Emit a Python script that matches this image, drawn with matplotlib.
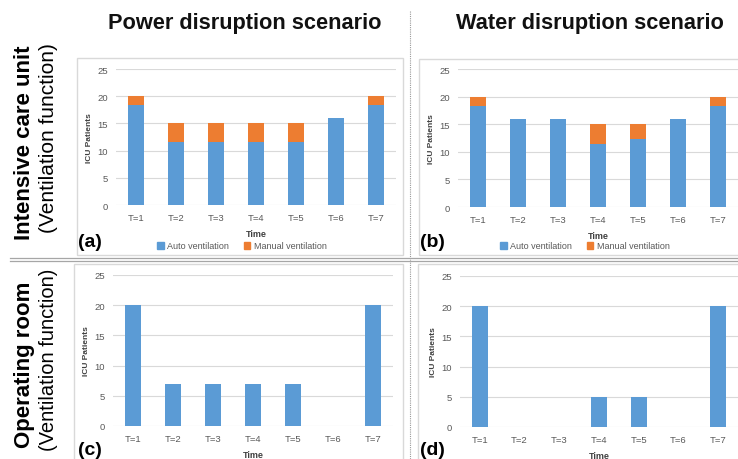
import matplotlib
matplotlib.use("Agg")
import matplotlib.pyplot as plt
from matplotlib.patches import Rectangle
from matplotlib.lines import Line2D

W, H = 738, 460
plt.rcParams['font.family'] = ['Liberation Sans', 'DejaVu Sans']

categories = ["T=1", "T=2", "T=3", "T=4", "T=5", "T=6", "T=7"]
a_auto = [18.3, 11.6, 11.6, 11.6, 11.6, 16, 18.3]
a_manual = [1.7, 3.4, 3.4, 3.4, 3.4, 0, 1.7]
b_auto = [18.3, 16, 16, 11.5, 12.3, 16, 18.3]
b_manual = [1.7, 0, 0, 3.5, 2.7, 0, 1.7]
c_vals = [20, 7, 7, 7, 7, 0, 20]
d_vals = [20, 0, 0, 5, 5, 0, 20]
yticks = [0, 5, 10, 15, 20, 25]

BLUE = "#5B9BD5"
ORANGE = "#ED7D31"
GRID = "#D9D9D9"
TXT = "#595959"

fig = plt.figure(figsize=(W / 100, H / 100), dpi=100)


def rect(l, t, r, b):
    return [l / W, 1 - b / H, (r - l) / W, (b - t) / H]


def fx(x):
    return x / W


def fy(y):
    return 1 - y / H


def box(l, t, r, b):
    fig.patches.append(Rectangle((fx(l), fy(b)), (r - l) / W, (b - t) / H,
                                 transform=fig.transFigure, fill=False,
                                 edgecolor=GRID, lw=1.0))


def make_ax(pos, auto, manual=None):
    ax = fig.add_axes(rect(*pos))
    x = list(range(len(categories)))
    ax.bar(x, auto, width=0.4, color=BLUE, zorder=3)
    if manual is not None:
        ax.bar(x, manual, width=0.4, bottom=auto, color=ORANGE, zorder=3)
    ax.set_xlim(-0.5, 6.5)
    ax.set_ylim(0, 25)
    ax.set_yticks(yticks)
    ax.set_xticks(x)
    ax.set_xticklabels(categories)
    ax.grid(axis='y', color=GRID, lw=0.8, zorder=0)
    for s in ax.spines.values():
        s.set_visible(False)
    ax.tick_params(length=0, labelsize=6.8, colors=TXT, pad=6)
    ax.set_ylabel("ICU Patients", fontsize=6, fontweight='bold', color="#404040", labelpad=3)
    ax.set_xlabel("Time", fontsize=6.5, fontweight='bold', color="#404040", labelpad=5)
    return ax


# panel boxes
box(77, 59, 403, 256)
box(419, 60, 745, 256)
box(74, 265, 403, 470)
box(418, 265, 745, 470)

ax_a = make_ax((116, 70, 396, 206), a_auto, a_manual)
ax_b = make_ax((458, 70, 738, 208), b_auto, b_manual)
ax_c = make_ax((113, 276, 393, 427), c_vals)
ax_d = make_ax((460, 277, 738, 428), d_vals)

# legends
for cx in (242, 585):
    handles = [Rectangle((0, 0), 1, 1, color=BLUE), Rectangle((0, 0), 1, 1, color=ORANGE)]
    fig.legend(handles, ["Auto ventilation", "Manual ventilation"],
               loc='center', bbox_to_anchor=(fx(cx), fy(247)), ncol=2, frameon=False,
               fontsize=6.5, handlelength=0.7, handleheight=0.7, handletextpad=0.4,
               columnspacing=1.6, labelcolor=TXT)

# panel letters
for (x, y, s) in [(78, 243, "(a)"), (420, 243, "(b)"), (78, 451, "(c)"), (420, 451, "(d)")]:
    fig.text(fx(x), fy(y), s, fontsize=14, fontweight='bold', ha='left', va='center')

# column titles
fig.text(fx(245), fy(23), "Power disruption scenario", fontsize=15.7, fontweight='bold',
         ha='center', va='center', color="#111111")
fig.text(fx(590), fy(23), "Water disruption scenario", fontsize=15.7, fontweight='bold',
         ha='center', va='center', color="#111111")

# row labels
fig.text(fx(25), fy(143), "Intensive care unit", fontsize=16, fontweight='bold',
         rotation=90, ha='center', va='center')
fig.text(fx(49), fy(138), "(Ventilation function)", fontsize=15,
         rotation=90, ha='center', va='center')
fig.text(fx(25), fy(365), "Operating room", fontsize=16, fontweight='bold',
         rotation=90, ha='center', va='center')
fig.text(fx(49), fy(360), "(Ventilation function)", fontsize=14.5,
         rotation=90, ha='center', va='center')

# separators
fig.add_artist(Line2D([fx(410), fx(410)], [fy(12), fy(460)], transform=fig.transFigure,
                      color="#9a9a9a", lw=0.8, ls=(0, (1, 1))))
for yy in (258.5, 261.5):
    fig.add_artist(Line2D([fx(10), fx(738)], [fy(yy), fy(yy)], transform=fig.transFigure,
                          color="#a6a6a6", lw=0.9))

fig.savefig("out.png", dpi=100, facecolor='white')
